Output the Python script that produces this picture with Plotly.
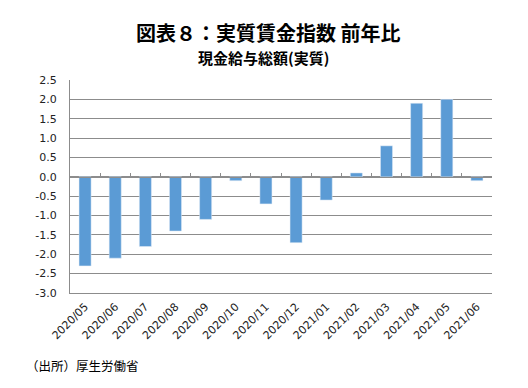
import plotly.graph_objects as go

months = ["2020/05", "2020/06", "2020/07", "2020/08", "2020/09", "2020/10", "2020/11",
          "2020/12", "2021/01", "2021/02", "2021/03", "2021/04", "2021/05", "2021/06"]
values = [-2.3, -2.1, -1.8, -1.4, -1.1, -0.1, -0.7, -1.7, -0.6, 0.1, 0.8, 1.9, 2.0, -0.1]
y_ticks = [2.5, 2.0, 1.5, 1.0, 0.5, 0.0, -0.5, -1.0, -1.5, -2.0, -2.5, -3.0]

y_min, y_max = -3.0, 2.5
grey = "#8c8c8c"
num_font = "DejaVu Sans, Verdana, sans-serif"
jp_font = "Noto Sans CJK JP, sans-serif"

idx = list(range(len(months)))
plot_w, plot_h = 422, 213
# the page body adds an 8px margin, so the figure is drawn 8px smaller and shifted
off = 8

fig = go.Figure()
fig.add_trace(go.Bar(x=idx, y=values, marker_color="#5B9BD5", width=0.4, showlegend=False))

fig.update_layout(
    width=528 - off, height=388 - off,
    margin=dict(l=70 - off, r=36, t=80 - off, b=95, autoexpand=False),
    plot_bgcolor="white", paper_bgcolor="white",
    xaxis=dict(tickmode="array", tickvals=idx, ticktext=months, tickangle=-45,
               range=[-0.5, len(months) - 0.5], showline=True, linecolor=grey,
               ticks="", showgrid=False, zeroline=False, automargin=False,
               ticklabelstandoff=2,
               tickfont=dict(family=num_font, size=11, color="#222")),
    xaxis2=dict(overlaying="x", anchor="free", position=(0 - y_min) / (y_max - y_min),
                range=[-0.5, len(months) - 0.5], tickmode="array",
                tickvals=[i + 0.5 for i in idx], ticks="inside", ticklen=4, tickcolor=grey,
                showticklabels=False, showline=True, linecolor=grey, showgrid=False,
                zeroline=False, automargin=False),
    yaxis=dict(range=[y_min, y_max], tickmode="array", tickvals=y_ticks,
               ticktext=[f"{v:.1f}" for v in y_ticks], showline=True, linecolor=grey,
               showgrid=True, gridcolor=grey, zeroline=False, ticks="", automargin=False,
               ticklabelstandoff=10,
               tickfont=dict(family=num_font, size=11, color="#222")),
)
fig.add_trace(go.Scatter(x=[None], y=[None], xaxis="x2", showlegend=False))

fig.add_annotation(text="<b>図表８：実質賃金指数 前年比</b>", xref="paper", yref="paper",
                   x=(268 - 70) / plot_w, y=1.0 + (80 - 32) / plot_h,
                   xanchor="center", yanchor="middle", showarrow=False,
                   font=dict(family=jp_font, size=20, color="black"))
fig.add_annotation(text="<b>現金給与総額(実質)</b>", xref="paper", yref="paper",
                   x=(263 - 70) / plot_w, y=1.0 + (80 - 57) / plot_h,
                   xanchor="center", yanchor="middle", showarrow=False,
                   font=dict(family=jp_font, size=15, color="black"))
fig.add_annotation(text="（出所）厚生労働省", xref="paper", yref="paper",
                   x=(24 - 70) / plot_w, y=-(365 - 293) / plot_h,
                   xanchor="left", yanchor="middle", showarrow=False,
                   font=dict(family=jp_font, size=12.5, color="black"))

fig.write_html("out.html")
